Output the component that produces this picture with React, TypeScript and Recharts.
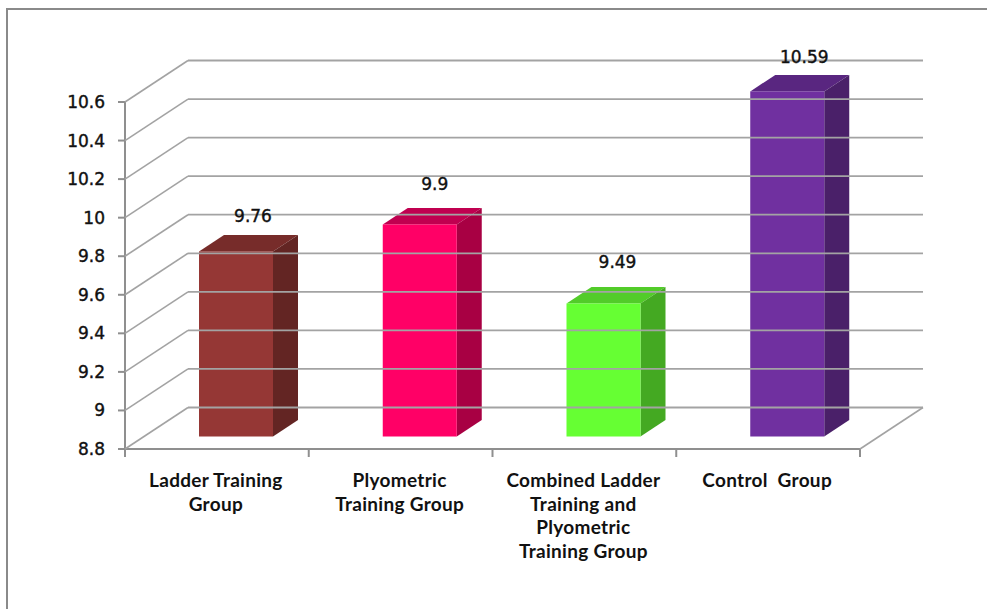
import React from 'react';
import { BarChart, Bar, XAxis, YAxis, LabelList } from 'recharts';

const categories = [
  'Ladder Training\nGroup',
  'Plyometric\nTraining Group',
  'Combined Ladder\nTraining and\nPlyometric\nTraining Group',
  'Control  Group',
];
const values = [9.76, 9.9, 9.49, 10.59];
const yTicks = [8.8, 9, 9.2, 9.4, 9.6, 9.8, 10, 10.2, 10.4, 10.6];

// front, top, side
const barColors = [
  ['#953735', '#772c2a', '#632523'],
  ['#ff0066', '#c00050', '#a80043'],
  ['#66ff33', '#52cc29', '#44a922'],
  ['#7030a0', '#592680', '#4a2069'],
];
const labelNudge = [
  [17, -35],
  [15, -40],
  [14, -41],
  [17, -34],
];

const data = categories.map((name, i) => ({ name, value: values[i] }));

const WIDTH = 987;
const HEIGHT = 609;
const LEFT = 125;
const RIGHT = 860;
const TOP = 102;
const BOTTOM = 449;
const WALL_DX = 63;
const WALL_DY = 41.5;
const BAR_DX = 19;
const BAR_DY = 12.5;
const DEPTH_X = 25;
const DEPTH_Y = 16.5;
const GRID = '#a3a3a3';
const AXIS = '#8f8f8f';
const FONT = '"DejaVu Sans", sans-serif';

const YTick = ({ y, payload }: any) => (
  <g>
    <line x1={LEFT - 7} x2={LEFT} y1={y} y2={y} stroke={AXIS} strokeWidth={2} />
    <line x1={LEFT} y1={y} x2={LEFT + WALL_DX} y2={y - WALL_DY} stroke={GRID} strokeWidth={1.6} />
    <line
      x1={LEFT + WALL_DX}
      y1={y - WALL_DY}
      x2={RIGHT + WALL_DX}
      y2={y - WALL_DY}
      stroke={GRID}
      strokeWidth={1.8}
    />
    <text
      x={LEFT - 20}
      y={y + 6}
      textAnchor="end"
      fontFamily={FONT}
      fontSize={17}
      fill="#111"
      stroke="#111"
      strokeWidth={0.4}
    >
      {payload.value}
    </text>
  </g>
);

const XTick = ({ x, payload, index }: any) => {
  const half = (RIGHT - LEFT) / categories.length / 2;
  const lines = String(payload.value).split('\n');
  return (
    <g>
      <line x1={x - half} x2={x - half} y1={BOTTOM} y2={BOTTOM + 8} stroke={AXIS} strokeWidth={2} />
      {index === categories.length - 1 && (
        <>
          <line x1={x + half} x2={x + half} y1={BOTTOM} y2={BOTTOM + 8} stroke={AXIS} strokeWidth={2} />
          <line
            x1={x + half}
            y1={BOTTOM}
            x2={x + half + WALL_DX}
            y2={BOTTOM - WALL_DY}
            stroke={GRID}
            strokeWidth={1.6}
          />
        </>
      )}
      <text
        textAnchor="middle"
        fontFamily="Lato, sans-serif"
        fontWeight={700}
        fontSize={19}
        letterSpacing={0.3}
        fill="#111"
        style={{ whiteSpace: 'pre' }}
      >
        {lines.map((line, i) => (
          <tspan key={i} x={x - 1} y={487 + i * 23.5}>
            {line}
          </tspan>
        ))}
      </text>
    </g>
  );
};

const Bar3D = ({ x, y, width, height, index }: any) => {
  const [front, top, side] = barColors[index];
  const l = x + BAR_DX;
  const r = l + width;
  const t = y - BAR_DY;
  const b = t + height;
  return (
    <g>
      <polygon
        points={`${l},${t} ${r},${t} ${r + DEPTH_X},${t - DEPTH_Y} ${l + DEPTH_X},${t - DEPTH_Y}`}
        fill={top}
      />
      <polygon
        points={`${r},${t} ${r + DEPTH_X},${t - DEPTH_Y} ${r + DEPTH_X},${b - DEPTH_Y} ${r},${b}`}
        fill={side}
      />
      <rect x={l} y={t} width={width} height={height} fill={front} />
    </g>
  );
};

const ValueLabel = ({ x, y, width, value, index }: any) => (
  <text
    x={x + width / 2 + BAR_DX + labelNudge[index][0]}
    y={y - BAR_DY + labelNudge[index][1] + 6}
    textAnchor="middle"
    fontFamily={FONT}
    fontSize={17}
    fill="#111"
    stroke="#111"
    strokeWidth={0.4}
  >
    {value}
  </text>
);

export default function App() {
  return (
    <div style={{ position: 'absolute', left: 0, top: 0, width: WIDTH, height: HEIGHT, background: '#fff' }}>
      <div
        style={{
          position: 'absolute',
          left: 6,
          top: 8,
          width: WIDTH - 6,
          height: HEIGHT - 8,
          boxSizing: 'border-box',
          borderLeft: '2px solid #8a8a8a',
          borderTop: '2px solid #8a8a8a',
        }}
      />
      <BarChart
        width={WIDTH}
        height={HEIGHT}
        data={data}
        margin={{ top: TOP, left: 25, right: WIDTH - RIGHT, bottom: 60 }}
        barCategoryGap={0}
      >
        <XAxis
          dataKey="name"
          height={HEIGHT - BOTTOM - 60}
          interval={0}
          axisLine={{ stroke: AXIS, strokeWidth: 2 }}
          tickLine={false}
          tick={<XTick />}
        />
        <YAxis
          width={LEFT - 25}
          domain={[8.8, 10.6]}
          ticks={yTicks}
          interval={0}
          axisLine={{ stroke: AXIS, strokeWidth: 2 }}
          tickLine={false}
          tick={<YTick />}
        />
        <Bar dataKey="value" barSize={74} shape={<Bar3D />} isAnimationActive={false}>
          <LabelList dataKey="value" content={<ValueLabel />} />
        </Bar>
      </BarChart>
    </div>
  );
}
